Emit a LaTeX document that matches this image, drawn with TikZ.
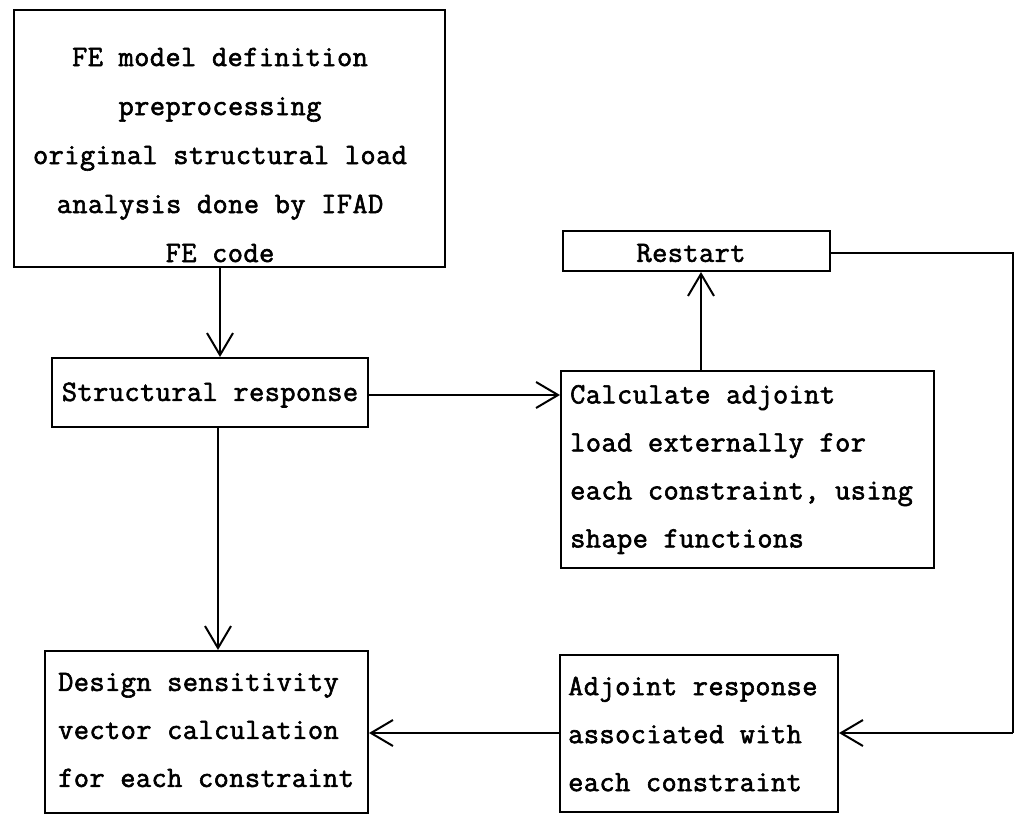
\documentclass[tikz,border=0pt]{standalone}
\usepackage{fontspec}
\newfontfamily\tw{Latin Modern Mono}[FakeBold=2,LetterSpace=1.5]
\usetikzlibrary{arrows.meta}
\tikzset{
  box/.style={draw, line width=2pt, rectangle, inner sep=0pt},
  txt/.style={font=\tw\fontsize{29.5}{48}\selectfont, inner sep=0pt},
  arr/.style={line width=2pt, -{Straight Barb[length=22pt,width=26pt,line width=2pt]}},
  ln/.style={line width=2pt}
}
\begin{document}
\begin{tikzpicture}[x=1pt,y=-1pt]
\useasboundingbox (0,0) rectangle (1016,821);
% boxes
\node[box, minimum width=431pt, minimum height=257pt] (fe) at (229.5,138.5) {};
\node[box, minimum width=316pt, minimum height=69pt] (sr) at (210,392.5) {};
\node[box, minimum width=267pt, minimum height=40pt] (rs) at (696.5,251) {};
\node[box, minimum width=373pt, minimum height=197pt] (ca) at (747.5,469.5) {};
\node[box, minimum width=278pt, minimum height=157pt] (ad) at (699,733.5) {};
\node[box, minimum width=323pt, minimum height=162pt] (ds) at (206.5,732) {};
% texts
\node[txt, align=center, font=\tw\fontsize{29.5}{49}\selectfont] (fet) at (220,155)
  {FE model definition\\preprocessing\\original structural load\\analysis done by IFAD\\FE code};
\node[txt] (srt) at (210,395) {Structural response};
\node[txt] (rst) at (691,253) {Restart};
\node[txt, align=left, anchor=west] (cat) at (570,469.5)
  {Calculate adjoint\\load externally for\\each constraint, using\\shape functions};
\node[txt, align=left, anchor=west] (adt) at (568,734)
  {Adjoint response\\associated with\\each constraint};
\node[txt, align=left, anchor=west] (dst) at (58,730)
  {Design sensitivity\\vector calculation\\for each constraint};
% connectors
\draw[arr] (fe.south -| 220,0) -- (sr.north -| 220,0);
\draw[arr] (sr.east |- 0,395) -- (ca.west |- 0,395);
\draw[arr] (sr.south -| 218,0) -- (ds.north -| 218,0);
\draw[arr] (ca.north -| 701,0) -- (rs.south -| 701,0);
\coordinate (c1) at (1013,253);
\coordinate (c2) at (1013,733);
\draw[ln] (rs.east |- c1) -- (c1) -- (c2);
\draw[arr] (c2) -- (ad.east |- c2);
\draw[arr] (ad.west |- 0,733) -- (ds.east |- 0,733);
\end{tikzpicture}
\end{document}
